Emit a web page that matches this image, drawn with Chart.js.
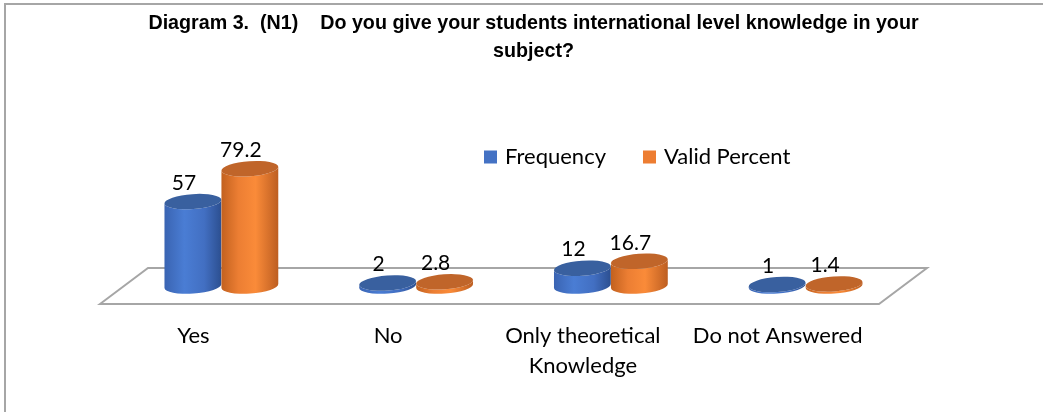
<!DOCTYPE html>
<html>
<head>
<meta charset="utf-8">
<script src="https://cdn.jsdelivr.net/npm/chart.js@4.4.1/dist/chart.umd.min.js"></script>
<style>
  html, body { margin: 0; padding: 0; background: #ffffff; }
  #wrap { width: 1043px; height: 412px; }
</style>
</head>
<body>
<div id="wrap"><canvas id="chart" width="1043" height="412"></canvas></div>
<script>
const categories = ['Yes', 'No', ['Only theoretical', 'Knowledge'], 'Do not Answered'];
const frequency = [57, 2, 12, 1];
const validPercent = [79.2, 2.8, 16.7, 1.4];
const seriesNames = ['Frequency', 'Valid Percent'];
const seriesColors = ['#4472C4', '#ED7D31'];
const titleLines = [
    'Diagram 3.  (N1)    Do you give your students international level knowledge in your',
    'subject?'
];

// shading for the cylinders (left edge -> right edge), and the flat top
const cylinderStyles = [
    { body: [[0, '#3a64b2'], [0.35, '#4a7dd4'], [0.7, '#426fc2'], [1, '#2c4f90']], top: '#39609f' },
    { body: [[0, '#c2611f'], [0.3, '#ec7e33'], [0.6, '#fa8b39'], [1, '#bd5e21']], top: '#c0652a' }
];

const DEPTH_X = 24;
const DEPTH_Y = 18;
const TOP_RY = 7.5;
const TILT = -0.07;
const UI_FONT = 'Lato, "Open Sans", sans-serif';

const cylinderPlugin = {
    id: 'cylinders',
    beforeDraw(chart) {
        const c = chart.ctx;
        c.save();
        // outer frame (right and bottom edges fall outside the picture)
        c.strokeStyle = '#a6a6a6';
        c.lineWidth = 2;
        c.strokeRect(5, 4, 1200, 600);
        c.restore();
    },
    beforeDatasetsDraw(chart) {
        const c = chart.ctx;
        const a = chart.chartArea;
        const y0 = chart.scales.y.getPixelForValue(0);
        c.save();
        c.strokeStyle = '#a6a6a6';
        c.lineWidth = 2;
        c.beginPath();
        c.moveTo(a.left - DEPTH_X, y0 + DEPTH_Y);
        c.lineTo(a.left + DEPTH_X, y0 - DEPTH_Y);
        c.lineTo(a.right + DEPTH_X, y0 - DEPTH_Y);
        c.lineTo(a.right - DEPTH_X, y0 + DEPTH_Y);
        c.closePath();
        c.stroke();
        c.restore();
    },
    beforeDatasetDraw() {
        return false;
    },
    afterDatasetsDraw(chart) {
        const c = chart.ctx;
        const n = chart.data.labels.length;
        for (let i = 0; i < n; i++) {
            chart.data.datasets.forEach((ds, d) => {
                const el = chart.getDatasetMeta(d).data[i];
                const p = el.getProps(['x', 'y', 'base', 'width'], true);
                const rx = p.width / 2;
                const dx = rx * Math.cos(TILT);
                const dy = rx * Math.sin(TILT);
                const st = cylinderStyles[d];
                const g = c.createLinearGradient(p.x - rx, 0, p.x + rx, 0);
                st.body.forEach(s => g.addColorStop(s[0], s[1]));
                c.save();
                c.beginPath();
                c.moveTo(p.x - dx, p.y - dy);
                c.lineTo(p.x - dx, p.base - dy);
                c.ellipse(p.x, p.base, rx, TOP_RY, TILT, Math.PI, 0, true);
                c.lineTo(p.x + dx, p.y + dy);
                c.ellipse(p.x, p.y, rx, TOP_RY, TILT, 0, Math.PI, false);
                c.closePath();
                c.fillStyle = g;
                c.fill();
                c.beginPath();
                c.ellipse(p.x, p.y, rx, TOP_RY, TILT, 0, Math.PI * 2);
                c.fillStyle = st.top;
                c.fill();
                c.restore();
            });
        }
        // value labels
        c.save();
        c.fillStyle = '#000000';
        c.font = '21px ' + UI_FONT;
        c.textAlign = 'center';
        c.textBaseline = 'middle';
        chart.data.datasets.forEach((ds, d) => {
            chart.getDatasetMeta(d).data.forEach((el, i) => {
                c.fillText(String(ds.data[i]), el.x - 9, el.y - TOP_RY - 11);
            });
        });
        // legend
        c.font = '22px ' + UI_FONT;
        let lx = 484;
        const ly = 157;
        chart.data.datasets.forEach((ds, d) => {
            c.fillStyle = seriesColors[d];
            c.fillRect(lx, ly - 6.5, 13, 13);
            c.fillStyle = '#000000';
            c.textAlign = 'left';
            c.fillText(ds.label, lx + 21, ly);
            lx += 21 + c.measureText(ds.label).width + 37;
        });
        c.restore();
    }
};

new Chart(document.getElementById('chart'), {
    type: 'bar',
    data: {
        labels: categories,
        datasets: [
            { label: seriesNames[0], data: frequency, backgroundColor: seriesColors[0] },
            { label: seriesNames[1], data: validPercent, backgroundColor: seriesColors[1] }
        ]
    },
    options: {
        responsive: false,
        animation: false,
        categoryPercentage: 0.585,
        barPercentage: 1,
        layout: { padding: { left: 124, right: 100, top: 0, bottom: 31 } },
        plugins: {
            legend: { display: false },
            tooltip: { enabled: false },
            title: {
                display: true,
                text: titleLines,
                color: '#000000',
                font: { family: '"Liberation Sans", Arial, sans-serif', size: 19.7, weight: 'bold', lineHeight: 1.42 },
                padding: { top: 10, bottom: 72 }
            }
        },
        scales: {
            x: {
                grid: { display: false, drawTicks: false },
                border: { display: false },
                ticks: {
                    color: '#000000',
                    font: { family: UI_FONT, size: 22, lineHeight: 1.36 },
                    padding: 35,
                    labelOffset: -28,
                    maxRotation: 0,
                    autoSkip: false
                },
                afterFit(scale) { scale.height = 95; }
            },
            y: {
                position: 'right',
                min: 0,
                max: 100,
                grid: { display: false, drawTicks: false },
                border: { display: false },
                ticks: { display: false },
                afterFit(scale) { scale.width = 40; }
            }
        }
    },
    plugins: [cylinderPlugin]
});
</script>
</body>
</html>
